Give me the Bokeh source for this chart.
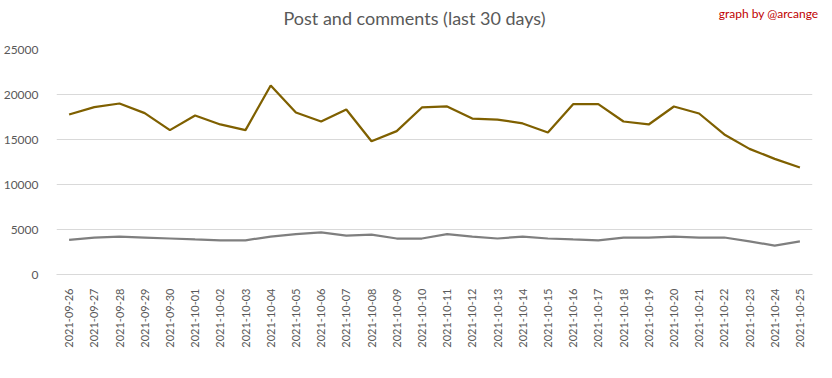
from bokeh.plotting import figure
from bokeh.models import (ColumnDataSource, FactorRange, Range1d, Legend, LegendItem,
                          FixedTicker, Title)
from bokeh.embed import file_html
from bokeh.resources import INLINE

dates = ["2021-09-26", "2021-09-27", "2021-09-28", "2021-09-29", "2021-09-30",
         "2021-10-01", "2021-10-02", "2021-10-03", "2021-10-04", "2021-10-05",
         "2021-10-06", "2021-10-07", "2021-10-08", "2021-10-09", "2021-10-10",
         "2021-10-11", "2021-10-12", "2021-10-13", "2021-10-14", "2021-10-15",
         "2021-10-16", "2021-10-17", "2021-10-18", "2021-10-19", "2021-10-20",
         "2021-10-21", "2021-10-22", "2021-10-23", "2021-10-24", "2021-10-25"]
posts = [3850, 4110, 4220, 4110, 4000, 3890, 3800, 3800, 4220, 4480,
         4670, 4330, 4440, 4000, 4000, 4480, 4220, 4000, 4220, 4000,
         3890, 3800, 4110, 4110, 4220, 4110, 4110, 3670, 3220, 3670]
comments = [17780, 18590, 19000, 17930, 16040, 17670, 16670, 16040, 21000, 18000,
            17000, 18330, 14810, 15930, 18560, 18670, 17330, 17220, 16780, 15780,
            18930, 18930, 17000, 16670, 18670, 17890, 15560, 13960, 12850, 11890]
y_ticks = [0, 5000, 10000, 15000, 20000, 25000]

FONT = "Lato"
src = ColumnDataSource(dict(d=dates, posts=posts, comments=comments))

p = figure(frame_width=756, frame_height=225, output_backend="svg", toolbar_location=None,
           x_range=FactorRange(*dates), y_range=Range1d(0, 25000),
           min_border_left=50, min_border_right=10, min_border_top=49, min_border_bottom=88)
p.outline_line_color = None
p.background_fill_color = "white"

r1 = p.line("d", "posts", source=src, line_color="#7f7f7f", line_width=2.25)
r2 = p.line("d", "comments", source=src, line_color="#7f6000", line_width=2.25)

p.xgrid.grid_line_color = None
p.ygrid.grid_line_color = "#d9d9d9"
p.ygrid.grid_line_width = 1
p.yaxis.axis_label = None
p.yaxis.ticker = FixedTicker(ticks=y_ticks)
p.yaxis.axis_line_color = None
p.yaxis.major_tick_line_color = None
p.yaxis.minor_tick_line_color = None
p.yaxis.major_label_text_font = FONT
p.yaxis.major_label_text_font_size = "12px"
p.yaxis.major_label_text_color = "#595959"
p.yaxis.major_label_standoff = 12

p.xaxis.axis_label = None
p.xaxis.axis_line_color = "#d9d9d9"
p.xaxis.major_tick_line_color = None
p.xaxis.major_label_orientation = 1.5708
p.xaxis.major_label_text_font = FONT
p.xaxis.major_label_text_font_size = "11px"
p.xaxis.major_label_text_color = "#595959"
p.xaxis.major_label_standoff = 8

# outermost title: credit
p.title = Title(text="graph by @arcange", align="right", text_font=FONT,
                text_font_size="12px", text_font_style="normal", text_color="#c00000",
                standoff=-28, offset=-6)

# spacer closest to the frame, then the main title
spacer = Title(text=" ", text_font_size="1px", standoff=40)
p.add_layout(spacer, "above")
main_title = Title(text="Post and comments (last 30 days)", align="left", offset=227,
                   text_font=FONT, text_font_size="18px", text_font_style="normal",
                   text_color="#595959", standoff=-44)
p.add_layout(main_title, "above")

legend = Legend(items=[LegendItem(label="Posts", renderers=[r1]),
                       LegendItem(label="Comments", renderers=[r2])],
                orientation="horizontal", location="top_center",
                label_text_font=FONT, label_text_font_size="12px",
                label_text_color="#595959", glyph_width=28, glyph_height=10,
                label_height=14, border_line_color=None, background_fill_alpha=0,
                spacing=16, padding=0, margin=-15, label_standoff=3)
p.add_layout(legend, "below")

open("out.html", "w").write(file_html(p, INLINE))
